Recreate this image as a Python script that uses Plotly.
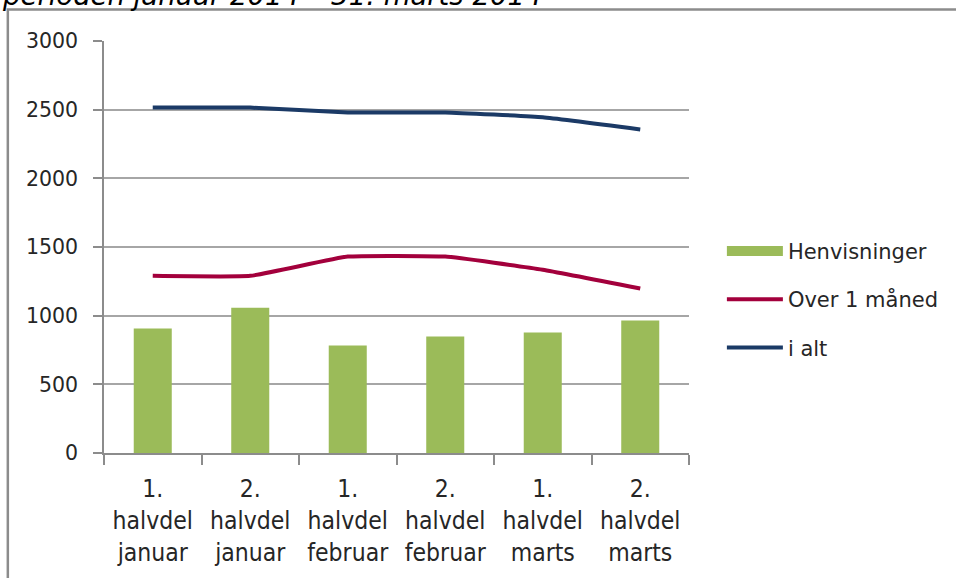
import plotly.graph_objects as go

categories = ["1.<br>halvdel<br>januar", "2.<br>halvdel<br>januar", "1.<br>halvdel<br>februar",
              "2.<br>halvdel<br>februar", "1.<br>halvdel<br>marts", "2.<br>halvdel<br>marts"]
henvisninger = [907, 1057, 783, 848, 877, 965]
over_1_maaned = [1290, 1290, 1430, 1430, 1335, 1198]
i_alt = [2515, 2515, 2480, 2480, 2445, 2356]
y_ticks = [0, 500, 1000, 1500, 2000, 2500, 3000]
title_text = "perioden januar 2014 – 31. marts 2014"

W, H = 956, 578
L, R, T, B = 104, 691, 41, 453.5


def px_x(x):
    return (x - L) / (R - L)


def px_y(y):
    return (B - y) / (B - T)


fig = go.Figure()
fig.add_trace(go.Bar(x=categories, y=henvisninger, name="Henvisninger",
                     marker=dict(color="#9BBB59", line=dict(width=0)),
                     width=0.39, legendgroup="a", showlegend=False))
# legend entry for the bars (wide green swatch like the reference)
fig.add_trace(go.Scatter(x=[None], y=[None], name="Henvisninger", mode="lines",
                         line=dict(color="#9BBB59", width=13), legendgroup="a"))
fig.add_trace(go.Scatter(x=categories, y=over_1_maaned, name="Over 1 måned", mode="lines",
                         line=dict(color="#A3003C", width=4, shape="spline", smoothing=0.35),
                         legendgroup="b"))
fig.add_trace(go.Scatter(x=categories, y=i_alt, name="i alt", mode="lines",
                         line=dict(color="#1B3A66", width=4, shape="spline", smoothing=0.35),
                         legendgroup="c"))

fig.update_layout(
    width=W, height=H,
    margin=dict(l=L, r=W - R, t=T, b=H - B, pad=0),
    plot_bgcolor="white", paper_bgcolor="white",
    font=dict(family="DejaVu Sans", size=20, color="#262626"),
    showlegend=True,
    legend=dict(x=px_x(724), y=px_y(231), xanchor="left", yanchor="top",
                font=dict(family="DejaVu Sans", size=21, color="#262626"),
                tracegroupgap=18, itemwidth=56, bgcolor="rgba(0,0,0,0)"),
    xaxis=dict(showline=True, linecolor="#8C8C8C", linewidth=1.5,
               ticks="outside", tickson="boundaries", ticklen=10, tickcolor="#8C8C8C",
               tickwidth=1.5, showgrid=False, ticklabelstandoff=13,
               tickfont=dict(family="Liberation Sans Narrow, DejaVu Sans Condensed, sans-serif",
                             size=24.5, color="#262626")),
    yaxis=dict(range=[0, 3000], tickvals=y_ticks, showline=True, linecolor="#8C8C8C",
               linewidth=1.5, ticks="outside", ticklen=9, tickcolor="#8C8C8C", tickwidth=1.5,
               showgrid=True, gridcolor="#A6A6A6", gridwidth=1.5, zeroline=False,
               tickfont=dict(family="DejaVu Sans", size=20.5, color="#262626"),
               ticklabelstandoff=11),
)

fig.add_shape(type="rect", xref="paper", yref="paper",
              x0=px_x(7.5), x1=px_x(1000), y0=px_y(700), y1=px_y(9.5),
              line=dict(color="#8C8C8C", width=2.5), fillcolor="rgba(0,0,0,0)", layer="below")

fig.add_annotation(text=title_text, xref="paper", yref="paper", x=px_x(0), y=px_y(13),
                   xanchor="left", yanchor="bottom", showarrow=False,
                   font=dict(family="DejaVu Sans", size=27.5, color="#000000", style="italic"))

fig.write_html("out.html", config={"displayModeBar": False},
               post_script="document.body.style.margin='0';document.body.style.overflow='hidden';")
